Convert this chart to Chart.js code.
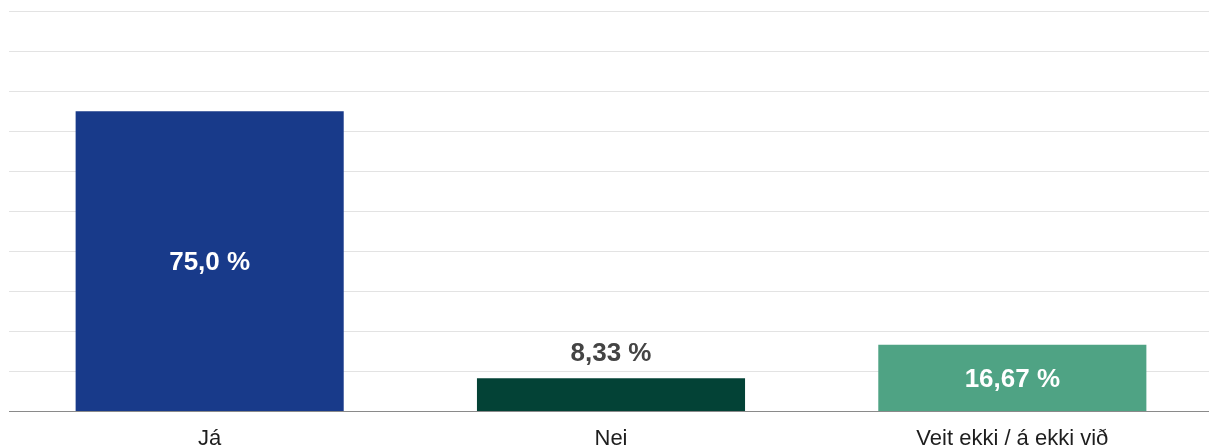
<!DOCTYPE html>
<html><head><meta charset="utf-8">
<script src="https://cdn.jsdelivr.net/npm/chart.js@4"></script>
<style>
html,body{margin:0;padding:0;overflow:hidden;background:#fff;}
#wrap{width:1213px;height:466px;position:relative;}
</style></head>
<body><div id="wrap"><canvas id="c"></canvas></div>
<script>
const categories = ["Já", "Nei", "Veit ekki / á ekki við"];
const values = [75.0, 8.33, 16.67];
const valueLabels = ["75,0 %", "8,33 %", "16,67 %"];
const barColors = ["#183a8a", "#034236", "#4fa384"];
const insideLabel = [true, false, true];

const labelPlugin = {
  id: 'valLabels',
  afterDatasetsDraw(chart) {
    const ctx = chart.ctx;
    const meta = chart.getDatasetMeta(0);
    ctx.save();
    ctx.font = 'bold 26px "Liberation Sans", Arial, sans-serif';
    ctx.textAlign = 'center';
    ctx.textBaseline = 'middle';
    meta.data.forEach((bar, i) => {
      const p = bar.getProps(['x', 'y', 'base'], true);
      if (insideLabel[i]) {
        ctx.fillStyle = '#ffffff';
        ctx.fillText(valueLabels[i], p.x, (p.y + p.base) / 2 + 1.5);
      } else {
        ctx.fillStyle = '#444444';
        ctx.fillText(valueLabels[i], p.x, p.y - 24.5);
      }
    });
    ctx.restore();
  }
};

new Chart(document.getElementById('c'), {
  type: 'bar',
  data: {
    labels: categories,
    datasets: [{ data: values, backgroundColor: barColors, borderWidth: 0, barPercentage: 0.668, categoryPercentage: 1.0 }]
  },
  options: {
    responsive: true,
    maintainAspectRatio: false,
    animation: false,
    layout: { padding: { left: 9, top: 11, right: 0, bottom: 0 } },
    plugins: { legend: { display: false }, tooltip: { enabled: false } },
    scales: {
      x: {
        grid: { display: false, drawTicks: false },
        border: { display: false },
        ticks: { color: '#1e1e1e', padding: 14, font: { family: '"Liberation Sans", Arial, sans-serif', size: 22 } }
      },
      y: {
        min: 0, max: 100,
        ticks: { display: false, stepSize: 10 },
        border: { display: false },
        grid: {
          drawTicks: false,
          color: (c) => c.tick && c.tick.value === 0 ? '#8a8a8a' : '#e3e3e3',
          lineWidth: 1
        }
      }
    }
  },
  plugins: [labelPlugin]
});
</script></body></html>
